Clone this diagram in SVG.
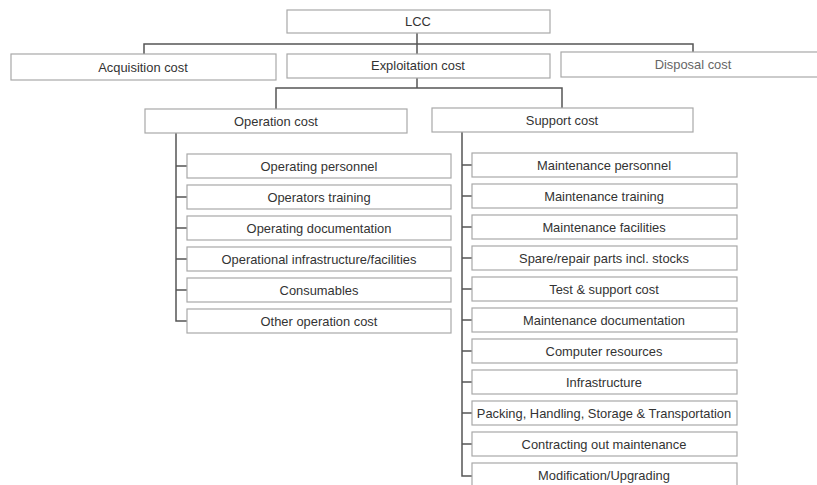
<svg xmlns="http://www.w3.org/2000/svg" width="817" height="485" viewBox="0 0 817 485">
<style>
.b{fill:#fff;stroke:#a8a8a8;stroke-width:1.2}
.t{font-family:"Liberation Sans",Arial,sans-serif;font-size:12.9px;fill:#333;text-anchor:middle}
.tl{font-family:"Liberation Sans",Arial,sans-serif;font-size:12.9px;fill:#666;text-anchor:middle}
.c{fill:none;stroke:#555;stroke-width:1.5}
</style>
<rect width="817" height="485" fill="#fff"/>
<g id="connectors">
<path class="c" d="M417 33V54M144 54V44H693V52"/>
<path class="c" d="M417 78V88M276 109V88H562V108"/>
<path class="c" d="M176 133V321H187M176 166H187M176 197H187M176 228H187M176 259H187M176 290H187"/>
<path class="c" d="M462 132V476H472M462 165H472M462 196H472M462 227H472M462 258H472M462 289H472M462 320H472M462 351H472M462 382H472M462 413H472M462 444H472"/>
</g>
<g id="lcc"><rect class="b" x="287" y="10" width="263" height="23"/><text class="t" x="418" y="26">LCC</text></g>
<g id="acquisition"><rect class="b" x="11" y="54" width="265" height="26"/><text class="t" x="143" y="72">Acquisition cost</text></g>
<g id="exploitation"><rect class="b" x="287" y="54" width="263" height="24"/><text class="t" x="418" y="70">Exploitation cost</text></g>
<g id="disposal"><rect class="b" x="561" y="52" width="262" height="25"/><text class="tl" x="693" y="69">Disposal cost</text></g>
<g id="operation"><rect class="b" x="145" y="109" width="262" height="24"/><text class="t" x="276" y="126">Operation cost</text></g>
<g id="support"><rect class="b" x="432" y="108" width="261" height="24"/><text class="t" x="562" y="125">Support cost</text></g>
<g id="op1"><rect class="b" x="187" y="154" width="264" height="24"/><text class="t" x="319" y="171">Operating personnel</text></g>
<g id="op2"><rect class="b" x="187" y="185" width="264" height="24"/><text class="t" x="319" y="202">Operators training</text></g>
<g id="op3"><rect class="b" x="187" y="216" width="264" height="24"/><text class="t" x="319" y="233">Operating documentation</text></g>
<g id="op4"><rect class="b" x="187" y="247" width="264" height="24"/><text class="t" x="319" y="264">Operational infrastructure/facilities</text></g>
<g id="op5"><rect class="b" x="187" y="278" width="264" height="24"/><text class="t" x="319" y="295">Consumables</text></g>
<g id="op6"><rect class="b" x="187" y="309" width="264" height="24"/><text class="t" x="319" y="326">Other operation cost</text></g>
<g id="sp1"><rect class="b" x="472" y="153" width="265" height="24"/><text class="t" x="604" y="170">Maintenance personnel</text></g>
<g id="sp2"><rect class="b" x="472" y="184" width="265" height="24"/><text class="t" x="604" y="201">Maintenance training</text></g>
<g id="sp3"><rect class="b" x="472" y="215" width="265" height="24"/><text class="t" x="604" y="232">Maintenance facilities</text></g>
<g id="sp4"><rect class="b" x="472" y="246" width="265" height="24"/><text class="t" x="604" y="263">Spare/repair parts incl. stocks</text></g>
<g id="sp5"><rect class="b" x="472" y="277" width="265" height="24"/><text class="t" x="604" y="294">Test &amp; support cost</text></g>
<g id="sp6"><rect class="b" x="472" y="308" width="265" height="24"/><text class="t" x="604" y="325">Maintenance documentation</text></g>
<g id="sp7"><rect class="b" x="472" y="339" width="265" height="24"/><text class="t" x="604" y="356">Computer resources</text></g>
<g id="sp8"><rect class="b" x="472" y="370" width="265" height="24"/><text class="t" x="604" y="387">Infrastructure</text></g>
<g id="sp9"><rect class="b" x="472" y="401" width="265" height="24"/><text class="t" x="604" y="418">Packing, Handling, Storage &amp; Transportation</text></g>
<g id="sp10"><rect class="b" x="472" y="432" width="265" height="24"/><text class="t" x="604" y="449">Contracting out maintenance</text></g>
<g id="sp11"><rect class="b" x="472" y="463" width="265" height="24"/><text class="t" x="604" y="480">Modification/Upgrading</text></g>
</svg>
